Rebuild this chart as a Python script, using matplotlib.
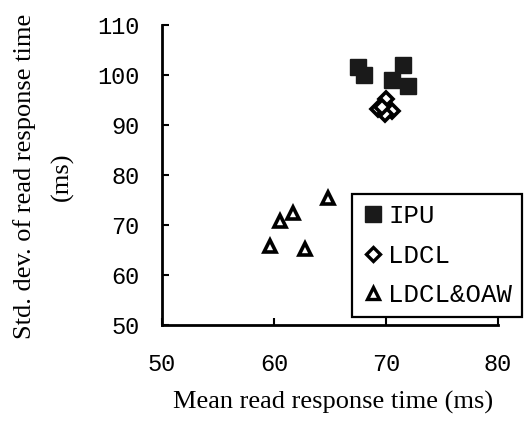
import matplotlib
matplotlib.use("Agg")
import matplotlib.pyplot as plt
from matplotlib.lines import Line2D

# ── Data ─────────────────────────────────────────────────────────────────────
ipu_x = [67.5, 68.0, 71.5, 70.5, 72.0]
ipu_y = [101.6, 100.1, 102.0, 99.0, 97.9]

ldcl_x = [70.0, 69.3, 70.5, 69.9, 69.6]
ldcl_y = [95.3, 93.2, 92.9, 92.3, 93.6]

oaw_x = [64.8, 61.7, 60.5, 59.6, 62.8]
oaw_y = [75.5, 72.5, 70.8, 65.9, 65.2]

x_ticks = [50, 60, 70, 80]
y_ticks = [50, 60, 70, 80, 90, 100, 110]

MONO = "Liberation Mono"
SERIF = "Liberation Serif"

fig = plt.figure(figsize=(5.27, 4.25), dpi=100)
ax = fig.add_axes([0.3074, 0.2353, 0.6376, 0.7057])

ax.plot(ipu_x, ipu_y, ls="none", marker="s", ms=12, mfc="#1a1a1a", mec="#1a1a1a")
ax.plot(ldcl_x, ldcl_y, ls="none", marker="D", ms=7.5, mfc="white", mec="black", mew=2.6)
ax.plot(oaw_x, oaw_y, ls="none", marker="^", ms=9, mfc="white", mec="black", mew=2.6)

ax.set_xlim(50, 80)
ax.set_ylim(50, 110)
ax.set_xticks(x_ticks)
ax.set_yticks(y_ticks)
ax.set_xticklabels([str(t) for t in x_ticks], family=MONO, fontsize=17)
ax.set_yticklabels([str(t) for t in y_ticks], family=MONO, fontsize=17)
ax.tick_params(direction="in", length=5, width=1.5, colors="black")
ax.tick_params(axis="x", pad=20)
ax.tick_params(axis="y", pad=16)
for side in ("top", "right"):
    ax.spines[side].set_visible(False)
for side in ("left", "bottom"):
    ax.spines[side].set_linewidth(2)

fig.text(0.632, 0.054, "Mean read response time (ms)", ha="center", va="center",
         family=SERIF, fontsize=19)
fig.text(0.083, 0.585, "Std. dev. of read response time\n(ms)", ha="center", va="center",
         rotation=90, family=SERIF, fontsize=19, linespacing=1.85)

handles = [
    Line2D([], [], ls="none", marker="s", ms=11, mfc="#1a1a1a", mec="#1a1a1a"),
    Line2D([], [], ls="none", marker="D", ms=7, mfc="white", mec="black", mew=2.4),
    Line2D([], [], ls="none", marker="^", ms=9, mfc="white", mec="black", mew=2.4),
]
leg = fig.legend(handles, ["IPU", "LDCL", "LDCL&OAW"],
                 loc="upper left", bbox_to_anchor=(0.668, 0.5435),
                 prop={"family": MONO, "size": 18.5},
                 frameon=True, fancybox=False, framealpha=1,
                 handlelength=0.8, handletextpad=0.2, borderpad=0.4,
                 labelspacing=0.6, borderaxespad=0)
leg.get_frame().set_edgecolor("black")
leg.get_frame().set_linewidth(1.6)

fig.savefig("out.png", dpi=100, facecolor="white")
